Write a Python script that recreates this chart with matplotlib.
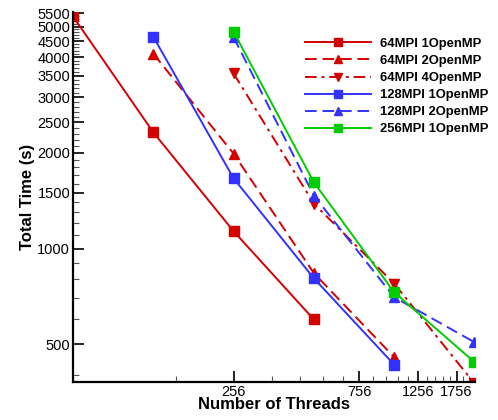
import numpy as np
import matplotlib
matplotlib.use("Agg")
import matplotlib.pyplot as plt
from matplotlib.ticker import FixedLocator, NullFormatter

plt.rcParams['font.family'] = ['Liberation Sans', 'DejaVu Sans']

# threads for each run
threads_64_1 = [64, 128, 256, 512]
time_64_1 = [5384, 2323, 1134, 598]

threads_64_2 = [128, 256, 512, 1024]
time_64_2 = [4109, 1990, 837, 455]

threads_64_4 = [256, 512, 1024, 2048]
time_64_4 = [3562, 1385, 776, 376]

threads_128_1 = [128, 256, 512, 1024]
time_128_1 = [4647, 1664, 806, 431]

threads_128_2 = [256, 512, 1024, 2048]
time_128_2 = [4630, 1468, 703, 507]

threads_256_1 = [256, 512, 1024, 2048]
time_256_1 = [4818, 1617, 729, 439]

xticks = [256, 756, 1256, 1756]
yticks = [500, 1000, 1500, 2000, 2500, 3000, 3500, 4000, 4500, 5000, 5500]

red = '#d40000'
blue = '#3232ff'
green = '#00cc00'

fig = plt.figure(figsize=(4.98, 4.2), dpi=100)
ax = fig.add_axes([0.1466, 0.0905, 0.8074, 0.8805])

lw = 1.4
ms = 6.5
ax.plot(threads_64_1, time_64_1, color=red, lw=lw, marker='s', ms=ms, label='64MPI 1OpenMP')
ax.plot(threads_64_2, time_64_2, color=red, lw=lw, ls=(0, (6, 3)), marker='^', ms=ms + 1, label='64MPI 2OpenMP')
ax.plot(threads_64_4, time_64_4, color=red, lw=lw, ls=(0, (6, 2.5, 1.5, 2.5)), marker='v', ms=ms + 1, label='64MPI 4OpenMP')
ax.plot(threads_128_1, time_128_1, color=blue, lw=lw, marker='s', ms=ms, label='128MPI 1OpenMP')
ax.plot(threads_128_2, time_128_2, color=blue, lw=lw, ls=(0, (6, 3)), marker='^', ms=ms + 1, label='128MPI 2OpenMP')
ax.plot(threads_256_1, time_256_1, color=green, lw=lw, marker='s', ms=ms, label='256MPI 1OpenMP')

ax.set_xscale('log')
ax.set_yscale('log')
ax.set_xlim(64, 2060)
ax.set_ylim(380, 5550)

ax.xaxis.set_major_locator(FixedLocator(xticks))
ax.xaxis.set_minor_locator(FixedLocator([v for v in range(156, 2000, 100) if v not in xticks]))
ax.xaxis.set_major_formatter(matplotlib.ticker.FixedFormatter([str(v) for v in xticks]))
ax.xaxis.set_minor_formatter(NullFormatter())

ax.yaxis.set_major_locator(FixedLocator(yticks))
ax.yaxis.set_minor_locator(FixedLocator([v for v in range(400, 5600, 100) if v not in yticks]))
ax.yaxis.set_major_formatter(matplotlib.ticker.FixedFormatter([str(v) for v in yticks]))
ax.yaxis.set_minor_formatter(NullFormatter())

ax.tick_params(which='both', direction='in', labelsize=10.5, width=1.2)
ax.tick_params(which='major', length=8, pad=2)
ax.tick_params(which='minor', length=4, width=0.8, color='#555555')

ax.spines['top'].set_visible(False)
ax.spines['right'].set_visible(False)
ax.spines['left'].set_linewidth(1.6)
ax.spines['bottom'].set_linewidth(1.6)

ax.set_xlabel('Number of Threads', fontsize=12, fontweight='bold', labelpad=-1)
ax.set_ylabel('Total Time (s)', fontsize=12, fontweight='bold', labelpad=2)

leg = ax.legend(loc='upper left', bbox_to_anchor=(0.565, 0.945), frameon=False,
                prop={'weight': 'bold', 'size': 9.4}, handlelength=5.0,
                handletextpad=0.75, labelspacing=0.38, borderaxespad=0,
                markerscale=0.85)

fig.savefig('out.png', dpi=100)
